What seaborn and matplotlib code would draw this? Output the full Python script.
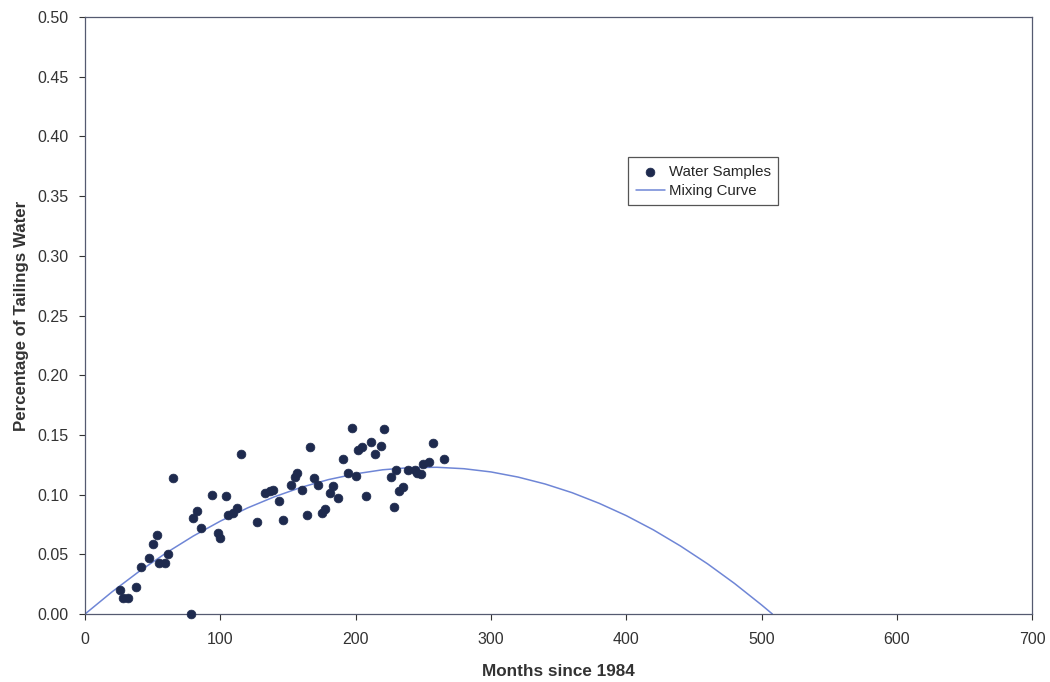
import matplotlib
matplotlib.use("Agg")
import matplotlib.pyplot as plt
import seaborn as sns
import pandas as pd

# Water sample observations (months since 1984, fraction of tailings water)
months = [26, 28, 32, 38, 41, 47, 50, 53, 55, 59, 61, 65, 78, 80, 83, 86, 94,
          98, 100, 104, 106, 109, 112, 115, 127, 133, 137, 139, 143, 146, 152,
          155, 157, 160, 164, 166, 169, 172, 175, 177, 181, 183, 187, 191, 194,
          197, 200, 202, 205, 208, 211, 214, 219, 221, 226, 228, 230, 232, 235,
          239, 244, 245, 248, 250, 254, 257, 265]
fraction = [0.020, 0.013, 0.013, 0.023, 0.039, 0.047, 0.059, 0.066, 0.043, 0.043,
            0.050, 0.114, 0.000, 0.080, 0.086, 0.072, 0.100, 0.068, 0.064, 0.099,
            0.083, 0.085, 0.089, 0.134, 0.077, 0.101, 0.103, 0.104, 0.095, 0.079,
            0.108, 0.115, 0.118, 0.104, 0.083, 0.140, 0.114, 0.108, 0.085, 0.088,
            0.101, 0.107, 0.097, 0.130, 0.118, 0.156, 0.116, 0.137, 0.140, 0.099,
            0.144, 0.134, 0.141, 0.155, 0.115, 0.090, 0.121, 0.103, 0.106, 0.121,
            0.121, 0.118, 0.117, 0.126, 0.127, 0.143, 0.130]

# Mixing curve
curve_months = [0, 20, 40, 60, 80, 100, 120, 140, 160, 180, 200, 220, 240, 260,
                280, 300, 320, 340, 360, 380, 400, 420, 440, 460, 480, 500, 508]
curve_fraction = [0.0, 0.0186, 0.0357, 0.0512, 0.0653, 0.0778, 0.0888, 0.0982,
                  0.1062, 0.1126, 0.1174, 0.1208, 0.1226, 0.1229, 0.1217, 0.1190,
                  0.1147, 0.1089, 0.1016, 0.0927, 0.0824, 0.0705, 0.0570, 0.0421,
                  0.0256, 0.0076, 0.0]

x_ticks = [0, 100, 200, 300, 400, 500, 600, 700]
y_ticks = [0.00, 0.05, 0.10, 0.15, 0.20, 0.25, 0.30, 0.35, 0.40, 0.45, 0.50]

sns.set_theme(style="white")
plt.rcParams['font.family'] = ['Liberation Sans', 'DejaVu Sans']

samples = pd.DataFrame({"months": months, "fraction": fraction})
curve = pd.DataFrame({"months": curve_months, "fraction": curve_fraction})

fig = plt.figure(figsize=(10.5, 6.82), dpi=100)
ax = fig.add_axes([0.081, 0.0997, 0.902, 0.8753])

sns.lineplot(data=curve, x="months", y="fraction", ax=ax, color="#6f86d6",
             linewidth=1.1, label="Mixing Curve", sort=False)
sns.scatterplot(data=samples, x="months", y="fraction", ax=ax, color="#1e2a4e",
                s=40, edgecolor="#1e2a4e", linewidth=0.5, label="Water Samples",
                zorder=3, clip_on=False)

ax.set_xlim(0, 700)
ax.set_ylim(0, 0.5)
ax.set_xticks(x_ticks)
ax.set_yticks(y_ticks)
ax.set_xticklabels([str(v) for v in x_ticks])
ax.set_yticklabels([f"{v:.2f}" for v in y_ticks])
ax.tick_params(axis="both", labelsize=11.5, colors="#333333", length=4, width=0.8,
               direction="out", bottom=True, left=True)
ax.tick_params(axis="y", pad=8)
ax.tick_params(axis="x", pad=9)
for s in ax.spines.values():
    s.set_color("#555a70")
    s.set_linewidth(0.9)

ax.set_xlabel("Months since 1984", fontsize=12.3, fontweight="bold", color="#333333", labelpad=12)
ax.set_ylabel("Percentage of Tailings Water", fontsize=12.2, fontweight="bold", color="#333333", labelpad=6)

handles, labels = ax.get_legend_handles_labels()
order = [labels.index("Water Samples"), labels.index("Mixing Curve")]
leg = ax.legend([handles[i] for i in order], [labels[i] for i in order],
                loc="upper left", bbox_to_anchor=(0.5734, 0.7655), borderaxespad=0,
                fontsize=10.8, frameon=True, fancybox=False, edgecolor="#555555",
                framealpha=1, borderpad=0.5, handlelength=1.95, handletextpad=0.25,
                labelspacing=0.35)
leg.get_frame().set_linewidth(0.9)

fig.savefig("out.png", dpi=100)
